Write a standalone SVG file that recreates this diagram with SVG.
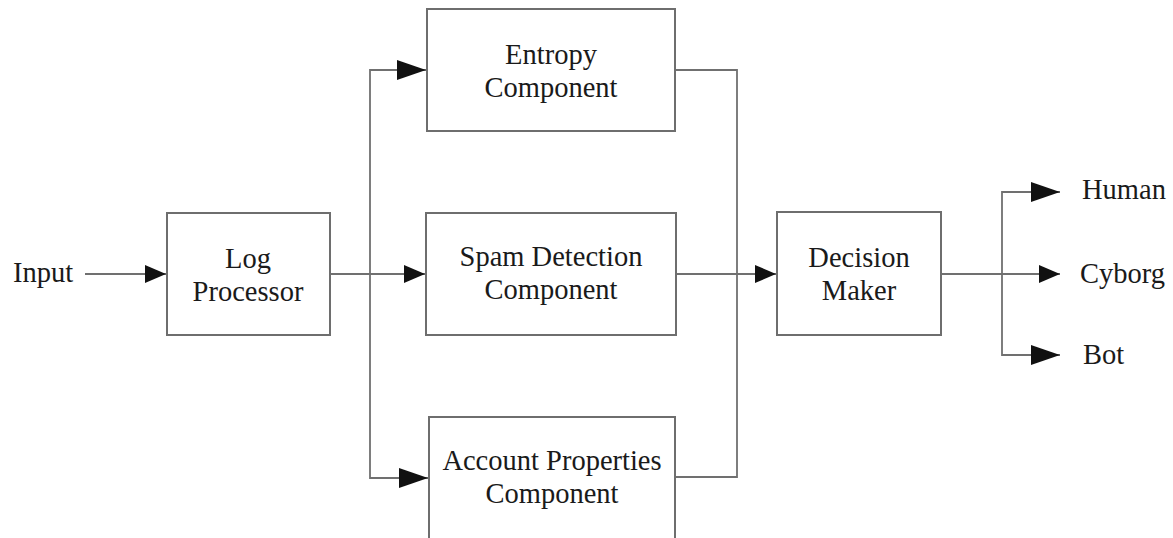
<svg xmlns="http://www.w3.org/2000/svg" width="1173" height="538" viewBox="0 0 1173 538">
<defs>
<style>
.box{fill:#fff;stroke:#6e6e6e;stroke-width:2}
.ln{fill:none;stroke:#707070;stroke-width:1.8}
.t{font-family:"Liberation Serif","Times New Roman",serif;font-size:28.5px;fill:#1a1a1a}
.c{text-anchor:middle}
</style>
<marker id="ah" markerUnits="userSpaceOnUse" markerWidth="24" markerHeight="22" refX="21" refY="9" orient="auto">
<path d="M0,0 L21,9 L0,18 Z" fill="#111"/>
</marker>
<marker id="ahl" markerUnits="userSpaceOnUse" markerWidth="32" markerHeight="24" refX="29" refY="10" orient="auto">
<path d="M0,0 L29,10 L0,20 Z" fill="#111"/>
</marker>
</defs>
<rect width="1173" height="538" fill="#fff"/>
<g id="connectors">
<path class="ln" d="M85,274 H166" marker-end="url(#ah)"/>
<path class="ln" d="M330,274 H425" marker-end="url(#ah)"/>
<path class="ln" d="M370,274 V70 H426" marker-end="url(#ahl)"/>
<path class="ln" d="M370,274 V478 H428" marker-end="url(#ahl)"/>
<path class="ln" d="M676,70 H737 V477 H676"/>
<path class="ln" d="M676,274 H776" marker-end="url(#ah)"/>
<path class="ln" d="M941,274 H1002"/>
<path class="ln" d="M1002,274 V192 H1060" marker-end="url(#ahl)"/>
<path class="ln" d="M1002,274 H1060" marker-end="url(#ah)"/>
<path class="ln" d="M1002,274 V355 H1060" marker-end="url(#ahl)"/>
</g>
<g id="input"><text class="t" x="13" y="282">Input</text></g>
<g id="log-processor">
<rect class="box" x="167" y="213" width="163" height="122"/>
<text class="t c" x="248" y="268">Log</text>
<text class="t c" x="248" y="301">Processor</text>
</g>
<g id="entropy">
<rect class="box" x="427" y="9" width="248" height="122"/>
<text class="t c" x="551" y="64">Entropy</text>
<text class="t c" x="551" y="97">Component</text>
</g>
<g id="spam">
<rect class="box" x="426" y="213" width="250" height="122"/>
<text class="t c" x="551" y="266">Spam Detection</text>
<text class="t c" x="551" y="299">Component</text>
</g>
<g id="account">
<rect class="box" x="429" y="417" width="246" height="140"/>
<text class="t c" x="552" y="470">Account Properties</text>
<text class="t c" x="552" y="503">Component</text>
</g>
<g id="decision">
<rect class="box" x="777" y="212" width="164" height="123"/>
<text class="t c" x="859" y="267">Decision</text>
<text class="t c" x="859" y="300">Maker</text>
</g>
<g id="human"><text class="t" x="1082" y="199">Human</text></g>
<g id="cyborg"><text class="t" x="1080" y="283">Cyborg</text></g>
<g id="bot"><text class="t" x="1083" y="364">Bot</text></g>
</svg>
